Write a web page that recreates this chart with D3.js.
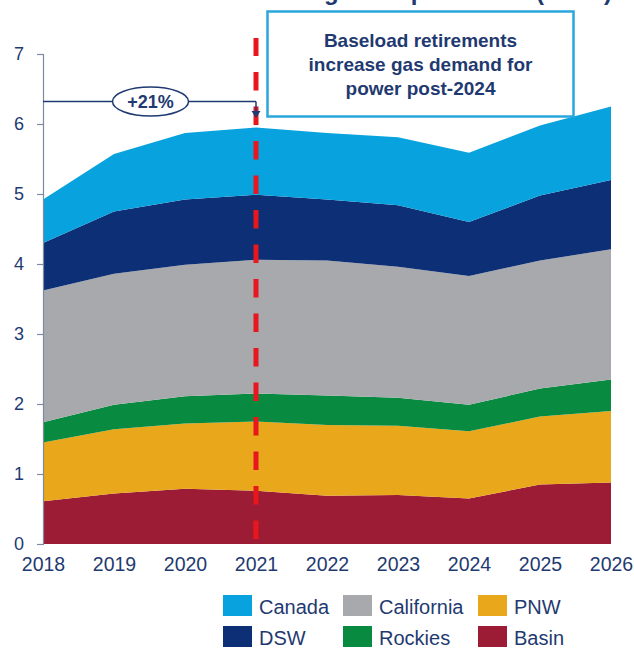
<!DOCTYPE html>
<html>
<head>
<meta charset="utf-8">
<script src="https://cdn.jsdelivr.net/npm/d3@7"></script>
<style>
  html, body { margin: 0; padding: 0; background: #fff; }
  svg { display: block; font-family: Arial, "Liberation Sans", sans-serif; }
</style>
</head>
<body>
<svg id="chart" width="634" height="648"></svg>
<script>
// Gas demand for power by region, Bcf/d
const years = [2018, 2019, 2020, 2021, 2022, 2023, 2024, 2025, 2026];
const basin      = [0.61, 0.72, 0.79, 0.76, 0.69, 0.70, 0.65, 0.85, 0.88];
const pnw        = [0.84, 0.92, 0.93, 0.99, 1.01, 0.99, 0.96, 0.97, 1.02];
const rockies    = [0.29, 0.35, 0.39, 0.40, 0.42, 0.40, 0.38, 0.40, 0.45];
const california = [1.88, 1.87, 1.88, 1.91, 1.93, 1.87, 1.84, 1.83, 1.86];
const dsw        = [0.68, 0.89, 0.93, 0.93, 0.87, 0.88, 0.77, 0.93, 0.99];
const canada     = [0.62, 0.82, 0.95, 0.96, 0.95, 0.97, 0.99, 1.00, 1.05];

const seriesKeys = ["Basin", "PNW", "Rockies", "California", "DSW", "Canada"];
const seriesValues = { Basin: basin, PNW: pnw, Rockies: rockies, California: california, DSW: dsw, Canada: canada };
const yTicks = [0, 1, 2, 3, 4, 5, 6, 7];
const legendRows = [["Canada", "California", "PNW"], ["DSW", "Rockies", "Basin"]];
const markerYear = 2021;
const growthLabel = "+21%";
const calloutLines = ["Baseload retirements", "increase gas demand for", "power post-2024"];
const titleText = "Western North America gas for power use (Bcf/d)";

const colors = {
  Canada: "#08a3de",
  DSW: "#0c2f76",
  California: "#a8a9ad",
  Rockies: "#088b40",
  PNW: "#e9a71b",
  Basin: "#9d1c35"
};
const navy = "#1f3a70";

const svg = d3.select("#chart");

const x = d3.scaleLinear().domain([2018, 2026]).range([43, 611]);
const y = d3.scaleLinear().domain([0, 7]).range([544, 54]);

// Stacked layers
const rows = years.map((yr, i) => {
  const r = { year: yr };
  seriesKeys.forEach(k => { r[k] = seriesValues[k][i]; });
  return r;
});
const stacked = d3.stack().keys(seriesKeys)(rows);
const area = d3.area()
  .x(d => x(d.data.year))
  .y0(d => y(d[0]))
  .y1(d => y(d[1]));

svg.append("g")
  .selectAll("path")
  .data(stacked)
  .join("path")
  .attr("fill", d => colors[d.key])
  .attr("d", area);

// Title (runs off the top edge, only descenders show)
svg.append("text")
  .attr("x", 612).attr("y", -0.5)
  .attr("text-anchor", "end")
  .attr("font-size", 24).attr("font-weight", "bold")
  .attr("fill", navy)
  .text(titleText);

// Y axis
const yAxis = svg.append("g")
  .attr("transform", "translate(43,0)")
  .call(d3.axisLeft(y).tickValues(yTicks).tickFormat(d3.format("d")).tickSize(6).tickPadding(13));
yAxis.select(".domain").attr("stroke", "#7f8aa0").attr("stroke-width", 1.2);
yAxis.selectAll(".tick line").attr("stroke", "#7f8aa0").attr("stroke-width", 1.2);
yAxis.selectAll(".tick text").attr("font-size", 18).attr("fill", navy)
  .attr("font-family", "Arial, 'Liberation Sans', sans-serif");

// X axis
const xAxis = svg.append("g")
  .attr("transform", "translate(0,544)")
  .call(d3.axisBottom(x).tickValues(years).tickFormat(d3.format("d")).tickSize(0).tickPadding(13));
xAxis.select(".domain").remove();
xAxis.selectAll(".tick text").attr("font-size", 19.5).attr("fill", navy)
  .attr("font-family", "Arial, 'Liberation Sans', sans-serif");

// Growth bracket from the first year to the marker year
const bracketY = 101.5;
const mx = x(markerYear);
svg.append("line")
  .attr("x1", x(2018)).attr("x2", mx)
  .attr("y1", bracketY).attr("y2", bracketY)
  .attr("stroke", navy).attr("stroke-width", 1.5);

// Dashed marker line
svg.append("line")
  .attr("x1", mx).attr("x2", mx)
  .attr("y1", 539).attr("y2", 38)
  .attr("stroke", "#e8161d").attr("stroke-width", 5)
  .attr("stroke-dasharray", "18.5,16");

svg.append("line")
  .attr("x1", mx).attr("x2", mx)
  .attr("y1", bracketY).attr("y2", 112)
  .attr("stroke", navy).attr("stroke-width", 1.5);
svg.append("path")
  .attr("d", `M${mx - 4.5},${111} L${mx + 4.5},${111} L${mx},${118} Z`)
  .attr("fill", navy);

const ex = (x(2018) + mx) / 2 + 1;
svg.append("ellipse")
  .attr("cx", ex).attr("cy", bracketY)
  .attr("rx", 38).attr("ry", 14.5)
  .attr("fill", "#fff").attr("stroke", navy).attr("stroke-width", 1.5);
svg.append("text")
  .attr("x", ex).attr("y", bracketY + 6.5)
  .attr("text-anchor", "middle")
  .attr("font-size", 18).attr("font-weight", "bold")
  .attr("fill", navy)
  .text(growthLabel);

// Callout box
svg.append("rect")
  .attr("x", 267.5).attr("y", 11.5)
  .attr("width", 306).attr("height", 105)
  .attr("fill", "#fff")
  .attr("stroke", "#2aa6dc").attr("stroke-width", 2.5);
svg.append("g")
  .selectAll("text")
  .data(calloutLines)
  .join("text")
  .attr("x", 420.5)
  .attr("y", (d, i) => 47 + i * 24)
  .attr("text-anchor", "middle")
  .attr("font-size", 19).attr("font-weight", "bold")
  .attr("fill", navy)
  .text(d => d);

// Legend
const legendX = [223, 343, 478];
const legendY = [595, 626];
legendRows.forEach((row, ri) => {
  row.forEach((name, ci) => {
    svg.append("rect")
      .attr("x", legendX[ci]).attr("y", legendY[ri])
      .attr("width", 29).attr("height", 21)
      .attr("fill", colors[name]);
    svg.append("text")
      .attr("x", legendX[ci] + 36).attr("y", legendY[ri] + 18.5)
      .attr("font-size", 20)
      .attr("fill", navy)
      .text(name);
  });
});
</script>
</body>
</html>
